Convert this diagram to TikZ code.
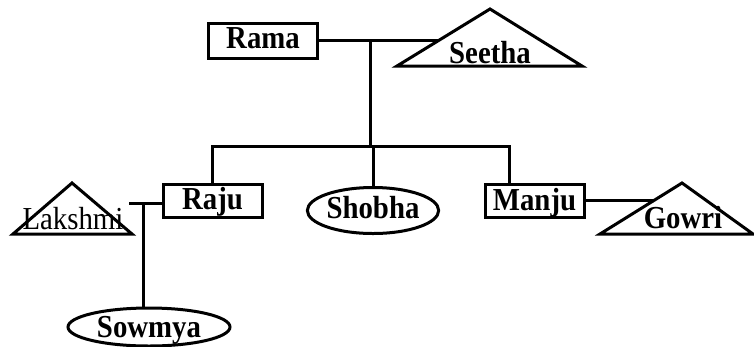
\documentclass[tikz,border=0pt]{standalone}
\usepackage{fontspec}
\setmainfont[FakeStretch=0.9]{Liberation Serif}
\usetikzlibrary{shapes.geometric,calc}
\begin{document}
\begin{tikzpicture}[x=1pt,y=-1pt,
  every node/.style={font=\fontsize{32}{33}\selectfont, inner sep=0pt, text height=19pt, text depth=0pt},
  person/.style={draw, line width=3pt, rectangle, font=\fontsize{32}{33}\selectfont\bfseries},
  oval/.style={draw, line width=3pt, ellipse, font=\fontsize{32}{33}\selectfont\bfseries},
  tri/.style={line width=3pt, line join=miter},
  link/.style={line width=3pt},
  tlabel/.style={anchor=base}]
\useasboundingbox (0,0) rectangle (754,346);
% boxes
\node[person, minimum width=109pt, minimum height=35pt, text height=15pt] (Rama) at (263,40.5) {Rama};
\node[person, minimum width=99pt, minimum height=33pt, text height=18pt] (Raju) at (212.5,200.5) {Raju};
\node[person, minimum width=99pt, minimum height=33pt, text height=20pt] (Manju) at (534.5,200.5) {Manju};
% ellipses
\node[oval, minimum width=114pt, minimum height=46pt, text height=16pt] (Shobha) at (373,210.5) {Shobha};
\node[oval, minimum width=162pt, minimum height=38pt, text height=21pt] (Sowmya) at (149,327) {Sowmya};
% triangles
\coordinate (sa) at (490,9); \coordinate (sl) at (397,66); \coordinate (sr) at (582,66);
\draw[tri] (sa) -- (sl) -- (sr) -- cycle;
\node[tlabel, font=\fontsize{32}{33}\selectfont\bfseries] (Seetha) at (490,63) {Seetha};
\coordinate (la) at (72,183); \coordinate (ll) at (13,234); \coordinate (lr) at (132,234);
\draw[tri] (la) -- (ll) -- (lr) -- cycle;
\node[tlabel] (Lakshmi) at (73,229) {Lakshmi};
\coordinate (ga) at (682,183); \coordinate (gl) at (600,234); \coordinate (gr) at (753,234);
\draw[tri] (ga) -- (gl) -- (gr) -- cycle;
\node[tlabel, font=\fontsize{32}{33}\selectfont\bfseries] (Gowri) at (683,228) {Gowri};
% connectors
\coordinate (seetha edge) at ($(sa)!0.56!(sl)$);
\coordinate (gowri edge) at ($(ga)!0.353!(gl)$);
\draw[link] (Rama.east) -- (Rama.east -| seetha edge);
\coordinate (j1) at (370,40.5);
\coordinate (bar) at (370,146);
\draw[link] (j1) -- (bar);
\coordinate (manju drop) at ($(Manju.north west)!0.25!(Manju.north east)$);
\draw[link] (Raju.north) |- (bar) -| (manju drop);
\draw[link] (Shobha.north |- bar) -- (Shobha.north);
\draw[link] (Manju.east) -- (Manju.east -| gowri edge);
\coordinate (lk) at (129,203);
\coordinate (j2) at (143,203);
\draw[link] (lk) -- (Raju.west |- lk);
\draw[link] (j2) -- (j2 |- Sowmya.north);
\end{tikzpicture}
\end{document}
